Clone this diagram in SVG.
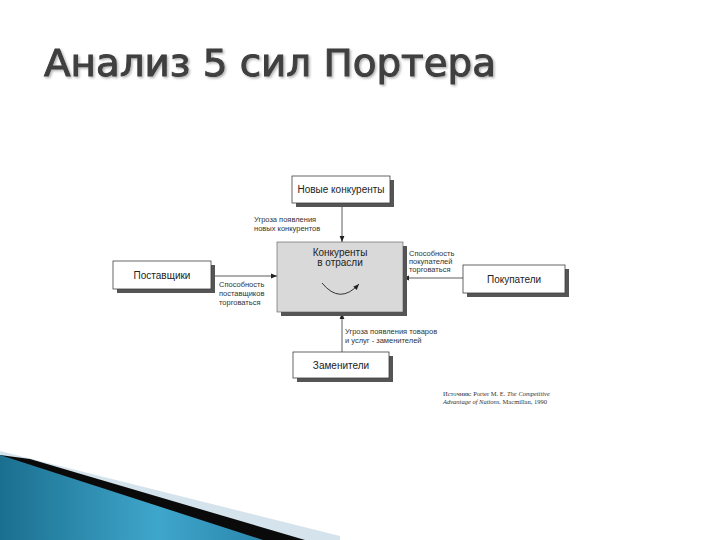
<svg xmlns="http://www.w3.org/2000/svg" width="720" height="540" viewBox="0 0 720 540">
<style>
.box{fill:#ffffff;stroke:#404040;stroke-width:0.8}
.shadow{fill:#555555}
.bt{font-family:"Liberation Sans",Arial,sans-serif;font-size:10px;fill:#222;text-anchor:middle}
.lb{font-family:"Liberation Sans",Arial,sans-serif;font-size:7.5px;fill:#333}
.ln{stroke:#333;stroke-width:0.8;fill:none}
.cit{font-family:"Liberation Serif","Times New Roman",serif;font-size:6.5px;fill:#333}
</style>
<defs>
<marker id="ah" viewBox="0 0 10 10" refX="10" refY="5" markerWidth="6" markerHeight="6" orient="auto" markerUnits="userSpaceOnUse">
<path d="M0,1 L10,5 L0,9 Z" fill="#222"/>
</marker>
<linearGradient id="blue" x1="0" y1="0" x2="1" y2="0">
<stop offset="0" stop-color="#1a6f8f"/>
<stop offset="0.6" stop-color="#3fa6cb"/>
<stop offset="1" stop-color="#2a87ad"/>
</linearGradient>
<filter id="tsh" x="-5%" y="-20%" width="110%" height="140%">
<feDropShadow dx="1.5" dy="1.5" stdDeviation="1" flood-color="#000" flood-opacity="0.3"/>
</filter>
</defs>
<rect width="720" height="540" fill="#ffffff"/>
<text x="44" y="76" font-family="DejaVu Sans,Verdana,sans-serif" font-size="38" fill="#3f3f3f" stroke="#3f3f3f" stroke-width="1" textLength="452" lengthAdjust="spacingAndGlyphs" filter="url(#tsh)">Анализ 5 сил Портера</text>

<g id="decor">
<polygon points="0,451 340,536 340,540 0,540" fill="#d5e4ec"/>
<polygon points="30,459 305,540 0,540 0,455" fill="#0a0a0a"/>
<polygon points="0,455 263,540 0,540" fill="url(#blue)"/>
</g>

<g id="connectors">
<line class="ln" x1="342" y1="203" x2="342" y2="242" marker-end="url(#ah)"/>
<line class="ln" x1="215" y1="276" x2="277" y2="276" marker-end="url(#ah)"/>
<line class="ln" x1="463" y1="278" x2="403" y2="278" marker-end="url(#ah)"/>
<line class="ln" x1="342" y1="352" x2="342" y2="313" marker-end="url(#ah)"/>
</g>

<g id="competitors">
<rect x="281" y="246" width="126" height="70" class="shadow"/>
<rect x="277" y="242" width="126" height="70" fill="#d9d9d9" stroke="#555" stroke-width="0.6"/>
<text class="bt" x="340" y="256">Конкуренты</text>
<text class="bt" x="340" y="266">в отрасли</text>
<path d="M322,283 Q340,305 359,284" fill="none" stroke="#333" stroke-width="1" marker-end="url(#ah)"/>
</g>

<g id="new-entrants">
<rect x="296" y="180" width="98" height="27" class="shadow"/>
<rect x="292" y="176" width="98" height="27" class="box"/>
<text class="bt" x="341" y="193">Новые конкуренты</text>
<text class="lb" x="254" y="222">Угроза появления</text>
<text class="lb" x="254" y="231">новых конкурентов</text>
</g>

<g id="suppliers">
<rect x="117" y="265" width="98" height="28" class="shadow"/>
<rect x="113" y="261" width="98" height="28" class="box"/>
<text class="bt" x="162" y="279">Поставщики</text>
<text class="lb" x="219" y="287">Способность</text>
<text class="lb" x="219" y="296">поставщиков</text>
<text class="lb" x="219" y="305">торговаться</text>
</g>

<g id="buyers">
<rect x="467" y="269" width="102" height="28" class="shadow"/>
<rect x="463" y="265" width="102" height="28" class="box"/>
<text class="bt" x="514" y="283">Покупатели</text>
<text class="lb" x="409" y="256">Способность</text>
<text class="lb" x="409" y="264">покупателей</text>
<text class="lb" x="409" y="272">торговаться</text>
</g>

<g id="substitutes">
<rect x="297" y="356" width="96" height="26" class="shadow"/>
<rect x="293" y="352" width="96" height="26" class="box"/>
<text class="bt" x="341" y="369">Заменители</text>
<text class="lb" x="345" y="334">Угроза появления товаров</text>
<text class="lb" x="345" y="343">и услуг - заменителей</text>
</g>

<g id="citation">
<text class="cit" x="443" y="396">Источник: Porter M. E. <tspan font-style="italic">The Competitive</tspan></text>
<text class="cit" x="443" y="404"><tspan font-style="italic">Advantage of Nations.</tspan> Macmillan, 1990</text>
</g>
</svg>
